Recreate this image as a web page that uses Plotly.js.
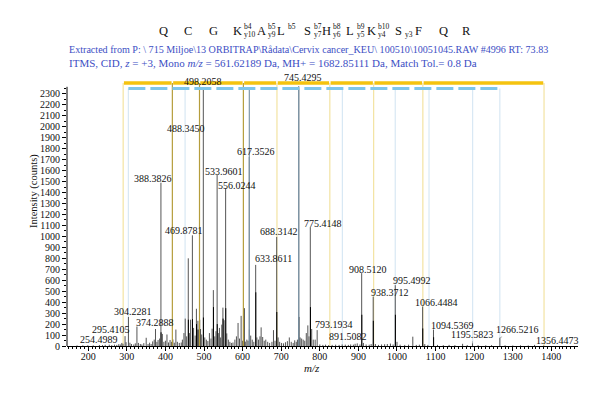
<!DOCTYPE html>
<html><head><meta charset="utf-8">
<script src="https://cdn.plot.ly/plotly-3.0.1.min.js"></script>
<style>html,body{margin:0;padding:0;background:#fff;}#chart{width:600px;height:401px;}</style>
</head><body><div id="chart"></div>
<script>
// ---------------- DATA ----------------
const peakMz = [171,186,199,213,229,237,244,254.4989,261,268,274,279,283,287,290,295.4105,298,304.2281,308,312,318,322,326.2,330,335,339,344,350.2,355,359,363,367,371,374.2888,378,381,385,388.3826,392,396,400,404,408,412,416,419.3,423,427.1,431,436,441,444,448,451.3,455,459.2,462,465.2,469.8781,473,477,480.3,484.2,488.345,491,494,498.2058,502,506,510,514,518,521,524.2,528,531,533.9601,537,540,543,546,549,552,556.0244,559,563,567,571,575,580,584,588.2,592,596.2,600,603.3,607,611,614,617.3526,621,625,629,633.8611,637,641,645,648,652,656,660,665,670,676,680,684,688.3142,692,696,701,706,711,716,721,726,731,735,739,742,745.4295,749,753,757,761,765,769,772,775.4148,779,783,788,793.1934,800,808,815,823,832,841,850,858,866,874,880,887,891.5082,897,904,908.512,913,920,928,933,938.3712,944,952,960,968,975,983,990,995.4992,1000,1008,1020,1030,1041,1050,1058,1066.4484,1072,1080,1094.5369,1105,1120,1135,1150,1170,1182,1195.5823,1210,1230,1245,1266.5216,1280,1300,1320,1340,1356.4473,1380];
const peakIntensity = [5,6,7,6,9,8,11,12,8,12,10,16,14,28,20,90,35,265,30,18,14,24,178,28,18,14,26,75,18,30,18,42,58,155,38,55,68,1490,110,38,48,105,32,55,38,60,30,150,38,28,32,58,118,250,88,800,118,240,1010,165,95,340,230,1950,155,105,2345,78,58,45,118,68,158,510,88,135,1560,118,165,78,195,350,235,1440,115,58,38,28,32,58,88,210,68,275,48,345,40,58,48,1725,95,58,38,740,78,58,88,170,82,48,58,38,28,38,145,48,995,78,38,28,24,34,44,78,38,28,52,38,58,2370,78,68,58,48,118,188,88,1085,155,58,58,145,14,10,12,8,10,12,10,14,12,10,14,12,20,24,14,665,28,14,12,18,450,18,10,14,16,18,22,14,555,38,12,10,12,85,10,12,360,18,10,150,10,8,10,8,20,8,25,8,6,8,75,6,5,6,5,10,4];
// overlapping isotope / cluster peaks (drawn darker at the foot of big peaks)
const clusterMz = [388.7,459.5,470.2,480.6,484.5,488.7,498.5,524.5,534.3,549.4,556.4,603.6,617.7,634.2,688.6,745.8,775.8,908.9,938.7,995.9,1066.8,1094.9];
const clusterIntensity = [125,240,245,200,150,240,260,355,200,250,345,345,150,490,310,265,355,285,230,285,160,80];
// labelled peaks (label text = m/z)
const labelMz = [254.4989,295.4105,304.2281,374.2888,388.3826,469.8781,488.345,498.2058,533.9601,556.0244,617.3526,633.8611,688.3142,745.4295,775.4148,793.1934,891.5082,908.512,938.3712,995.4992,1066.4484,1094.5369,1195.5823,1266.5216,1356.4473];
// theoretical fragment ions
const bIonMz = [290.5,418,488.3,602,689,826,939.5,1067,1381];
const bIonMatched = [false,true,true,true,false,false,false,false,false];
const yIonMz = [304,451,617.4,745.4,858.5,995.5,1083,1196,1266.5];
const yIonMatched = [false,false,true,true,false,false,false,false,false];
// sequence annotation
const seqResidues = ['Q','C','G','K','A','L','S','H','L','K','S','F','Q','R'];
const seqB = ['','','','b4','b5','b5','b7','b8','b9','b10','','','',''];
const seqY = ['','','','y10','y9','','y7','y6','y5','y4','y3','','',''];
const headerLines = [
  'Extracted from P: \\ 715 Miljoe\\13 ORBITRAP\\Rådata\\Cervix cancer_KEU\\ 100510\\10051045.RAW #4996 RT: 73.83',
  'ITMS, CID, <i>z</i> = +3, Mono <i>m/z</i> = 561.62189 Da, MH+ = 1682.85111 Da, Match Tol.= 0.8 Da'
];
const xTicks = [200,300,400,500,600,700,800,900,1000,1100,1200,1300,1400];
const yTicks = [0,100,200,300,400,500,600,700,800,900,1000,1100,1200,1300,1400,1500,1600,1700,1800,1900,2000,2100,2200,2300];
const yAxisTitle = 'Intensity (counts)';
const xAxisTitle = '<i>m/z</i>';

// ---------------- LAYOUT / STYLE ----------------
const L = 67, T = 72, W = 511, H = 274;
const px = x => (x - L) / W;
const py = y => (T + H - y) / H;
const FONT = 'Liberation Serif, Times New Roman, serif';
const BAND_B = 2400, BAND_Y = 2350, YAXIS_TOP = 2365;

function stems(xs, ys) {
  const X = [], Y = [];
  xs.forEach((m, i) => { X.push(m, m, null); Y.push(0, ys[i], null); });
  return {X, Y};
}
function ionLines(ions, flags, want, top) {
  const sel = ions.filter((m, i) => flags[i] === want);
  return stems(sel, sel.map(() => top));
}
const traces = [];
const pb = ionLines(bIonMz, bIonMatched, false, BAND_B);
const db = ionLines(bIonMz, bIonMatched, true, BAND_B);
const pyl = ionLines(yIonMz, yIonMatched, false, BAND_Y);
const dy = ionLines(yIonMz, yIonMatched, true, BAND_Y);
traces.push({x: pb.X, y: pb.Y, mode: 'lines', line: {color: '#f3e3a2', width: 1.2}, hoverinfo: 'skip'});
traces.push({x: pyl.X, y: pyl.Y, mode: 'lines', line: {color: '#d8e8f4', width: 1.2}, hoverinfo: 'skip'});
const pk = stems(peakMz, peakIntensity);
traces.push({x: pk.X, y: pk.Y, mode: 'lines', line: {color: '#555', width: 1}, hoverinfo: 'skip'});
const cl = stems(clusterMz, clusterIntensity);
traces.push({x: cl.X, y: cl.Y, mode: 'lines', line: {color: '#000', width: 1}, hoverinfo: 'skip'});
traces.push({x: db.X, y: db.Y, mode: 'lines', line: {color: '#b59d3c', width: 1.2}, hoverinfo: 'skip'});
traces.push({x: dy.X, y: dy.Y, mode: 'lines', line: {color: '#7f98ab', width: 1.2}, hoverinfo: 'skip'});
// b-ion band (yellow segments)
const bbX = [], bbY = [];
for (let i = 0; i < bIonMz.length - 1; i++) { bbX.push(bIonMz[i] + 2, bIonMz[i + 1] - 2, null); bbY.push(BAND_B, BAND_B, null); }
traces.push({x: bbX, y: bbY, mode: 'lines', line: {color: '#f5c30f', width: 3.5}, hoverinfo: 'skip'});
// y-ion band (blue dashed)
traces.push({x: [yIonMz[0], yIonMz[yIonMz.length - 1]], y: [BAND_Y, BAND_Y], mode: 'lines',
  line: {color: '#7fc6ea', width: 3, dash: '17px,5px'}, hoverinfo: 'skip'});

// peak labels: offsets (px) of label centre from peak top, and leader flag
const labelDx = [-10,-14,5,0,-8,-8,-14,0,7,11,7,18,2,4,13,17,-7,6,17,17,14,19,0,18,23];
const labelDy = [5,7,5,7,4,5,4,7,4,3,5,6,5,9,4,6,7,4,4,5,4,4,9,8,4];
const labelLeader = [true,true,false,true,false,true,false,false,false,false,false,true,false,false,false,true,true,false,false,false,false,true,true,true,true];

const ann = [];
labelMz.forEach((m, i) => {
  const h = peakIntensity[peakMz.indexOf(m)];
  const a = {x: m, y: h, xref: 'x', yref: 'y', text: m.toFixed(4), font: {family: FONT, size: 10, color: '#111'}};
  if (labelLeader[i]) {
    Object.assign(a, {showarrow: true, ax: labelDx[i], ay: -labelDy[i], arrowhead: 0, arrowwidth: 0.7, arrowcolor: '#999', standoff: 0});
  } else {
    Object.assign(a, {showarrow: false, xshift: labelDx[i], yshift: labelDy[i], yanchor: 'middle'});
  }
  ann.push(a);
});
// header lines
const headerY = [49, 63];
const headerSize = [10.1, 11];
headerLines.forEach((t, i) => ann.push({xref: 'paper', yref: 'paper', x: px(67), y: py(headerY[i]), xanchor: 'left', yanchor: 'middle',
  text: t, showarrow: false, font: {family: FONT, size: headerSize[i], color: '#3c4ec4'}}));
// sequence
const seqX = [163,188,213,237,261,281,307,326,350,371,398,418,443,466];
seqResidues.forEach((r, i) => {
  ann.push({xref: 'paper', yref: 'paper', x: px(seqX[i]), y: py(31), text: r, showarrow: false, xanchor: 'center', yanchor: 'middle',
    font: {family: FONT, size: 12.5, color: '#111'}});
  if (seqB[i]) ann.push({xref: 'paper', yref: 'paper', x: px(seqX[i] + 4.5), y: py(26.5), text: seqB[i], showarrow: false, xanchor: 'left', yanchor: 'middle',
    font: {family: FONT, size: 7.5, color: '#111'}});
  if (seqY[i]) ann.push({xref: 'paper', yref: 'paper', x: px(seqX[i] + 4.5), y: py(34.5), text: seqY[i], showarrow: false, xanchor: 'left', yanchor: 'middle',
    font: {family: FONT, size: 7.5, color: '#111'}});
});
// axis titles
ann.push({xref: 'paper', yref: 'paper', x: px(26), y: py(191), text: yAxisTitle, textangle: -90, showarrow: false,
  font: {family: FONT, size: 10.5, color: '#111'}});
ann.push({xref: 'paper', yref: 'paper', x: px(312), y: py(376), text: xAxisTitle, showarrow: false,
  font: {family: FONT, size: 11, color: '#111'}});

const minorY = [];
for (let v = 50; v <= 2350; v += 100) minorY.push(v);

const layout = {
  width: 600, height: 401,
  margin: {l: L, r: 600 - L - W, t: T, b: 401 - T - H, pad: 0},
  paper_bgcolor: '#fff', plot_bgcolor: '#fff', showlegend: false,
  font: {family: FONT, size: 10, color: '#111'},
  xaxis: {range: [145, 1469], showline: true, linecolor: '#000', linewidth: 1, zeroline: false, showgrid: false,
    tickmode: 'array', tickvals: xTicks, ticks: 'outside', ticklen: 4, tickcolor: '#000', tickwidth: 1,
    ticklabelstandoff: -3,
    tickfont: {family: FONT, size: 10, color: '#111'},
    minor: {tickmode: 'linear', tick0: 0, dtick: 10, ticks: 'outside', ticklen: 2, tickcolor: '#000', showgrid: false}},
  yaxis: {range: [0, 2500], showline: false, zeroline: false, showgrid: false,
    tickmode: 'array', tickvals: yTicks, ticks: 'outside', ticklen: 4, tickcolor: '#000', tickwidth: 1,
    tickfont: {family: FONT, size: 10, color: '#111'},
    minor: {tickmode: 'array', tickvals: minorY, ticks: 'outside', ticklen: 2, tickcolor: '#000', showgrid: false}},
  shapes: [{type: 'line', xref: 'paper', x0: 0, x1: 0, yref: 'y', y0: 0, y1: YAXIS_TOP, line: {color: '#000', width: 1}}],
  annotations: ann
};
Plotly.newPlot('chart', traces, layout, {displayModeBar: false, staticPlot: true});
</script></body></html>
